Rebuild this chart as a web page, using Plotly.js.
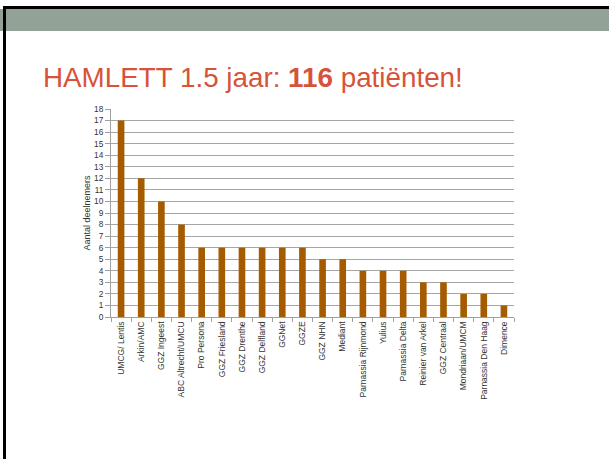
<!DOCTYPE html>
<html>
<head>
<meta charset="utf-8">
<script src="https://cdn.plot.ly/plotly-3.0.1.min.js"></script>
<style>
  html, body { margin: 0; padding: 0; background: #ffffff; }
  #chart { width: 609px; height: 459px; }
</style>
</head>
<body>
<div id="chart"></div>
<script>
const categories = [
  "UMCG/ Lentis", "Arkin/AMC", "GGZ Ingeest", "ABC Altrecht/UMCU", "Pro Persona",
  "GGZ Friesland", "GGZ Drenthe", "GGZ Delfland", "GGNet", "GGZE",
  "GGZ NHN", "Mediant", "Parnassia Rijnmond", "Yulius", "Parnassia Delta",
  "Reinier van Arkel", "GGZ Centraal", "Mondriaan/UMCM", "Parnassia Den Haag", "Dimence"
];
const deelnemers = [17, 12, 10, 8, 6, 6, 6, 6, 6, 6, 5, 5, 4, 4, 4, 3, 3, 2, 2, 1];
const yTicks = [0,1,2,3,4,5,6,7,8,9,10,11,12,13,14,15,16,17,18];
const slideTitle = "HAMLETT 1.5 jaar: <b>116</b> patiënten!";
const yTitle = "Aantal deelnemers";

// plot area in pixels
const W = 609, H = 459;
const L = 111, R = 514, T = 109, B = 317;
const px = x => (x - L) / (R - L);
const py = y => (B - y) / (B - T);

const font = "Liberation Sans, Arial, sans-serif";

const trace = {
  type: "bar",
  x: categories,
  y: deelnemers,
  marker: { color: "#A55C00", line: { width: 0 } },
  hoverinfo: "x+y"
};

const layout = {
  width: W, height: H,
  margin: { l: L, r: W - R, t: T, b: H - B, pad: 0 },
  paper_bgcolor: "#ffffff",
  plot_bgcolor: "#ffffff",
  showlegend: false,
  bargap: 0.67,
  font: { family: font, color: "#333333" },
  title: {
    text: slideTitle,
    font: { family: font, size: 27.8, color: "#D6533A" },
    x: 43 / W, xanchor: "left", xref: "container",
    y: 1 - 77 / H, yanchor: "middle", yref: "container"
  },
  xaxis: {
    type: "category",
    tickangle: -90,
    tickfont: { size: 8.5, color: "#333333", family: font },
    showgrid: false,
    showline: true, linecolor: "#a0a0a0", linewidth: 1,
    ticks: "outside", ticklen: 4, tickcolor: "#a0a0a0",
    tickson: "boundaries",
    fixedrange: true
  },
  yaxis: {
    range: [0, 18],
    tickvals: yTicks,
    ticktext: yTicks.map(String),
    tickfont: { size: 8.3, color: "#333333", family: font },
    showgrid: true, gridcolor: "#a6a6a6", gridwidth: 1,
    showline: true, linecolor: "#a0a0a0", linewidth: 1,
    ticks: "outside", ticklen: 5, tickcolor: "#a0a0a0",
    zeroline: false,
    title: { text: yTitle, font: { size: 9, color: "#333333", family: font }, standoff: 1 },
    fixedrange: true
  },
  shapes: [
    { type: "rect", xref: "paper", yref: "paper", layer: "below",
      x0: px(0), x1: px(W), y0: py(31), y1: py(9),
      fillcolor: "#93A296", line: { width: 0 } },
    { type: "rect", xref: "paper", yref: "paper", layer: "above",
      x0: px(3), x1: px(W), y0: py(9), y1: py(6),
      fillcolor: "#000000", line: { width: 0 } },
    { type: "rect", xref: "paper", yref: "paper", layer: "above",
      x0: px(3), x1: px(6), y0: py(H), y1: py(6),
      fillcolor: "#000000", line: { width: 0 } }
  ]
};

Plotly.newPlot("chart", [trace], layout, { displayModeBar: false, staticPlot: true });
</script>
</body>
</html>
